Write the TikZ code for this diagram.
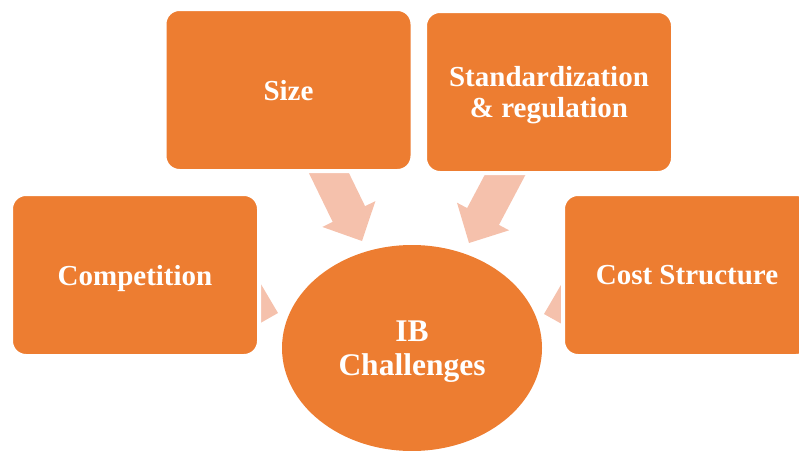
\documentclass[tikz,border=0pt]{standalone}
\usepackage{fontspec}
\setmainfont{Liberation Serif}
\usetikzlibrary{calc,shapes.geometric,backgrounds}
\definecolor{ibOrange}{HTML}{ED7D31}
\definecolor{ibPeach}{HTML}{F5C1AC}

% block arrow from a node centre (#1) to a tip coordinate (#2)
\newcommand{\blockarrow}[2]{%
  \coordinate (#1-base) at ($(#2)!30pt!(#1)$);
  \fill[ibPeach]
    ($(#1)!18pt!90:(#2)$) -- ($(#1-base)!18pt!90:(#2)$)
    -- ($(#1-base)!29.5pt!90:(#2)$) -- (#2)
    -- ($(#1-base)!29.5pt!-90:(#2)$) -- ($(#1-base)!18pt!-90:(#2)$)
    -- ($(#1)!18pt!-90:(#2)$) -- cycle;
}

\begin{document}
\begin{tikzpicture}[
    x=1pt, y=-1pt,
    factor/.style={rectangle, rounded corners=15pt, fill=ibOrange,
                   draw=white, line width=4pt, minimum width=248pt,
                   minimum height=162pt, align=center, text=white,
                   font=\fontsize{29}{31}\selectfont\bfseries, text depth=0pt},
    hub/.style={ellipse, fill=ibOrange, minimum width=260pt,
                minimum height=206pt, inner sep=0pt, align=center,
                text=white, font=\fontsize{31.5}{34}\selectfont\bfseries,
                text depth=0pt}
  ]

  \useasboundingbox (0,0) rectangle (799,450);

  % ---- Centre ----
  \node[hub] (ib) at (412,348) {IB\\Challenges};

  % ---- Surrounding factors ----
  \node[factor] (size) at (288.5,90) {Size};
  \node[factor] (std)  at (549,92)   {Standardization\\\& regulation};
  \node[factor] (comp) at (135,275)  {Competition};
  \node[factor] (cost) at (687,275)  {Cost Structure};

  % arrow tips, just short of the centre
  \coordinate (sizeTip) at (362,241);
  \coordinate (stdTip)  at (469,243);
  \coordinate (compTip) at (278,313);
  \coordinate (costTip) at (544,314);

  % ---- Arrows (behind the boxes) ----
  \begin{scope}[on background layer]
    \blockarrow{size}{sizeTip}
    \blockarrow{std}{stdTip}
    \blockarrow{comp}{compTip}
    \blockarrow{cost}{costTip}
  \end{scope}

\end{tikzpicture}
\end{document}
